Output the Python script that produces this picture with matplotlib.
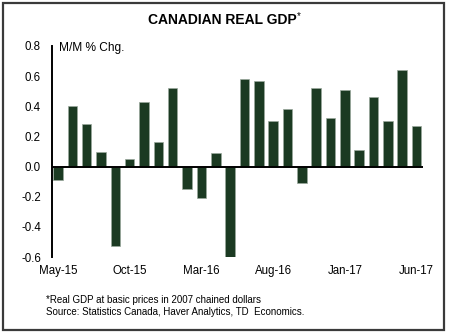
import matplotlib
matplotlib.use("Agg")
import matplotlib.pyplot as plt
from matplotlib.patches import Rectangle

plt.rcParams['font.family'] = ['Liberation Sans', 'DejaVu Sans']

months = ["May-15","Jun-15","Jul-15","Aug-15","Sep-15","Oct-15","Nov-15","Dec-15",
          "Jan-16","Feb-16","Mar-16","Apr-16","May-16","Jun-16","Jul-16","Aug-16",
          "Sep-16","Oct-16","Nov-16","Dec-16","Jan-17","Feb-17","Mar-17","Apr-17",
          "May-17","Jun-17"]
gdp_mm = [-0.09, 0.40, 0.28, 0.10, -0.53, 0.05, 0.43, 0.16, 0.52, -0.15, -0.21, 0.09,
          -0.61, 0.58, 0.57, 0.30, 0.38, -0.11, 0.52, 0.32, 0.51, 0.11, 0.46, 0.30,
          0.64, 0.27]
yticks = [-0.6, -0.4, -0.2, 0.0, 0.2, 0.4, 0.6, 0.8]
xtick_labels = ["May-15", "Oct-15", "Mar-16", "Aug-16", "Jan-17", "Jun-17"]

fig = plt.figure(figsize=(4.5, 3.35), dpi=100)
ax = fig.add_axes([0.1156, 0.2328, 0.8244, 0.6299])

x = list(range(len(months)))
ax.bar(x, gdp_mm, width=0.66, color='#1b3a22', edgecolor='#9aa89c', linewidth=0.5, zorder=2)
ax.axhline(0, color='black', lw=1.4, zorder=3)

ax.set_xlim(-0.42, 25.45)
ax.set_ylim(-0.6, 0.8)
ax.set_yticks(yticks)
ax.set_yticklabels([f"{v:.1f}" for v in yticks], fontsize=8.3)
tick_pos = [months.index(m) for m in xtick_labels]
ax.set_xticks(tick_pos)
ax.set_xticklabels(xtick_labels, fontsize=8.3)
ax.tick_params(axis='y', length=0, pad=8)
ax.tick_params(axis='x', length=0, pad=6)

for s in ['top', 'right', 'bottom']:
    ax.spines[s].set_visible(False)
ax.spines['left'].set_linewidth(1.4)
ax.spines['left'].set_color('black')

ax.text(0.02, 0.99, "M/M % Chg.", transform=ax.transAxes, fontsize=8.6,
        ha='left', va='center')

fig.text(222/450, 1 - 20/335, "CANADIAN REAL GDP", fontsize=10, fontweight='bold',
         ha='center', va='center')
fig.text(297/450, 1 - 16/335, "*", fontsize=7, ha='left', va='center')

fig.text(46/450, 1 - 300/335, "*Real GDP at basic prices in 2007 chained dollars",
         fontsize=7, ha='left', va='center')
fig.text(46/450, 1 - 312/335, "Source: Statistics Canada, Haver Analytics, TD  Economics.",
         fontsize=7, ha='left', va='center')

fig.patches.append(Rectangle((3/450, 5/335), 441/450, 327/335, transform=fig.transFigure,
                             fill=False, edgecolor='#3a3a3a', linewidth=1.6))

fig.savefig("out.png", dpi=100)
